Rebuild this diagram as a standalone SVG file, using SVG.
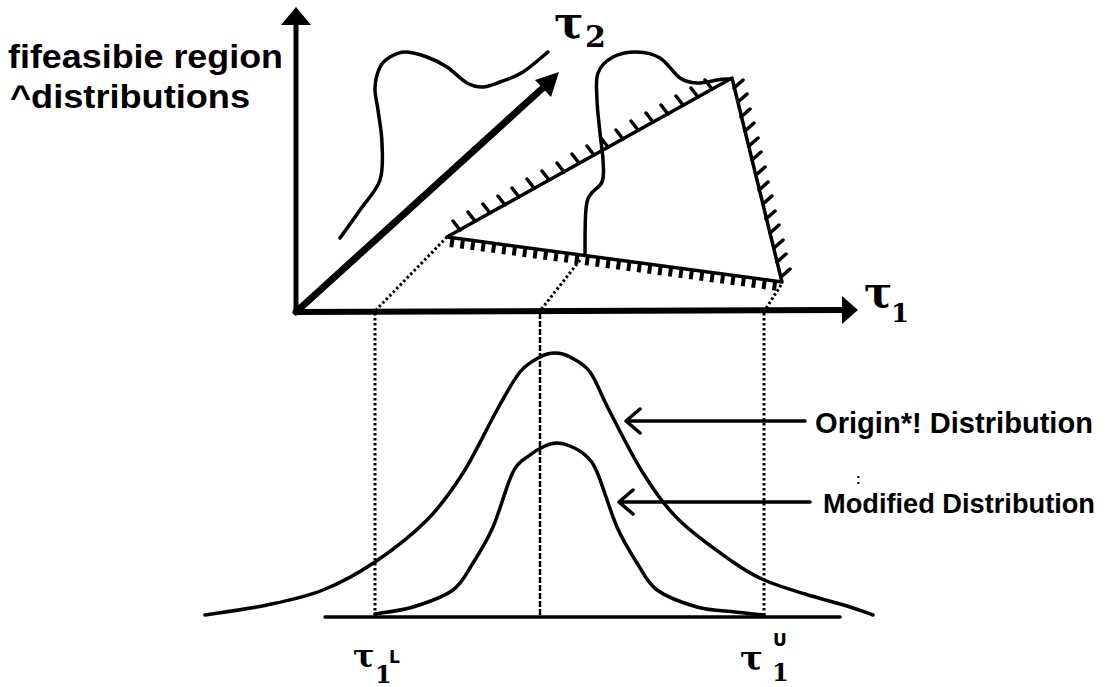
<svg xmlns="http://www.w3.org/2000/svg" width="1112" height="687" viewBox="0 0 1112 687">
<style>
.ln{fill:none;stroke:#000;stroke-linecap:round;stroke-linejoin:round}
.crv{fill:none;stroke:#000;stroke-width:3.5;stroke-linecap:round;stroke-linejoin:round}
.dot{fill:none;stroke:#000;stroke-width:3;stroke-dasharray:2.5 2.5}
.lbl{font-family:"Liberation Sans",Arial,sans-serif;font-weight:bold;fill:#000}
.tau{font-family:"DejaVu Serif",serif;font-weight:bold;fill:#000}
.sup{font-family:"DejaVu Sans",sans-serif;font-weight:bold;fill:#000}
</style>
<rect width="1112" height="687" fill="#fff"/>

<g id="axes">
  <line class="ln" x1="296" y1="312" x2="296" y2="22" stroke-width="5"/>
  <polygon points="296,7 281,25 311,25" fill="#000"/>
  <line class="ln" x1="296" y1="312" x2="846" y2="310" stroke-width="6"/>
  <polygon points="858,310 842,296 842,324" fill="#000"/>
  <line class="ln" x1="296" y1="312" x2="545" y2="86" stroke-width="7"/>
  <polygon points="559,72 535,80 551,97" fill="#000"/>
</g>

<g id="feasible-region">
  <polygon points="447,237 732,78 782,282" fill="none" stroke="#000" stroke-width="3.5" stroke-linejoin="round"/>
  <path class="ln" stroke-width="3.5" d="M460,230 l-7,-9 M475,221 l-7,-9 M490,213 l-7,-9 M505,205 l-7,-9 M519,197 l-7,-9 M534,188 l-7,-9 M549,180 l-7,-9 M564,172 l-7,-9 M579,163 l-7,-9 M594,155 l-7,-9 M608,147 l-7,-9 M623,139 l-7,-9 M638,130 l-7,-9 M653,122 l-7,-9 M668,114 l-7,-9 M683,105 l-7,-9 M698,97 l-7,-9 M712,89 l-7,-9"/>
  <path class="ln" stroke-width="3.5" d="M734,88 l9,-8 M738,102 l9,-8 M741,117 l9,-8 M745,131 l9,-8 M749,146 l9,-8 M752,160 l9,-8 M756,175 l9,-8 M759,190 l9,-8 M763,204 l9,-8 M766,219 l9,-8 M770,233 l9,-8 M774,248 l9,-8 M777,262 l9,-8 M781,277 l9,-8"/>
  <line x1="450" y1="242" x2="780" y2="286.3" stroke="#000" stroke-width="10" stroke-dasharray="4 6.5"/>
</g>

<g id="joint-distributions">
  <path class="crv" d="M340,238 C343.3,233.3 353.3,219.7 360,210 C366.7,200.3 376.3,191.2 380,180 C383.7,168.8 382.3,154.7 382,143 C381.7,131.3 379.2,119.2 378,110 C376.8,100.8 374.7,95.2 375,88 C375.3,80.8 377.5,72.2 380,67 C382.5,61.8 385.8,59.5 390,57 C394.2,54.5 398.8,52 405,52 C411.2,52 420,54.5 427,57 C434,59.5 440.3,62.7 447,67 C453.7,71.3 461,79.7 467,83 C473,86.3 477.5,87.2 483,87 C488.5,86.8 493.3,84.5 500,82 C506.7,79.5 515,77 523,72 C531,67 543.8,55.3 548,52"/>
  <path class="crv" d="M585,255 C585.3,246.2 584.2,214.2 587,202 C589.8,189.8 599.3,189 602,182 C604.7,175 603.3,168.2 603,160 C602.7,151.8 601,143 600,133 C599,123 597.3,110 597,100 C596.7,90 595.3,80.2 598,73 C600.7,65.8 606.5,60.5 613,57 C619.5,53.5 629.2,51.8 637,52 C644.8,52.2 652.8,53.7 660,58 C667.2,62.3 673.8,73.8 680,78 C686.2,82.2 690.8,82.7 697,83 C703.2,83.3 711.5,81 717,80 C722.5,79 728.7,79.2 731,79"/>
</g>

<g id="projections">
  <line class="dot" x1="447" y1="237" x2="375" y2="311"/>
  <line class="dot" x1="580" y1="260" x2="540" y2="311"/>
  <line class="dot" x1="781" y1="285" x2="765" y2="310"/>
  <line class="dot" x1="375" y1="313" x2="375" y2="617"/>
  <line x1="540" y1="313" x2="540" y2="617" stroke="#000" stroke-width="2.5" stroke-dasharray="6 2"/>
  <line class="dot" x1="764" y1="313" x2="764" y2="617"/>
</g>

<g id="marginal-distributions">
  <line class="ln" x1="325" y1="617" x2="840" y2="617" stroke-width="3.5"/>
  <path id="original" class="crv" d="M205,615 C215.3,613.3 247.3,609.2 267,605 C286.7,600.8 305,597.2 323,590 C341,582.8 357.7,573.7 375,562 C392.3,550.3 412.3,534.8 427,520 C441.7,505.2 451.3,491.3 463,473 C474.7,454.7 487.5,426.8 497,410 C506.5,393.2 512.8,380.8 520,372 C527.2,363.2 534.2,360.2 540,357 C545.8,353.8 550,353 555,353 C560,353 564.2,353.8 570,357 C575.8,360.2 583.5,363.2 590,372 C596.5,380.8 600.2,393.2 609,410 C617.8,426.8 631.3,454.7 643,473 C654.7,491.3 664,505.2 679,520 C694,534.8 718.8,552 733,562 C747.2,572 752,574.7 764,580 C776,585.3 790.7,589.5 805,594 C819.3,598.5 838.7,603.5 850,607 C861.3,610.5 869.2,613.7 873,615"/>
  <path id="modified" class="crv" d="M375,614 C381.3,612.8 400,611 413,607 C426,603 443,597.3 453,590 C463,582.7 466.3,573.5 473,563 C479.7,552.5 486.3,542.2 493,527 C499.7,511.8 506.8,484 513,472 C519.2,460 524.7,459.3 530,455 C535.3,450.7 540.5,448 545,446 C549.5,444 552.8,443 557,443 C561.2,443 565.3,444 570,446 C574.7,448 580.5,450.7 585,455 C589.5,459.3 591.7,460 597,472 C602.3,484 610.3,511.8 617,527 C623.7,542.2 630.3,552.5 637,563 C643.7,573.5 647,582.7 657,590 C667,597.3 684,603.3 697,607 C710,610.7 723.8,610.7 735,612 C746.2,613.3 759.2,614.5 764,615"/>
</g>

<g id="connectors">
  <path class="ln" stroke-width="3.5" d="M805,421 L626,421 M640,409 L626,421 L640,433"/>
  <path class="ln" stroke-width="3.5" d="M810,502 L619,502 M633,490 L619,502 L633,514"/>
</g>

<g id="labels">
  <text class="lbl" x="8" y="68" font-size="34" textLength="275" lengthAdjust="spacingAndGlyphs">fifeasibie region</text>
  <text class="lbl" x="10" y="108" font-size="34" textLength="240" lengthAdjust="spacingAndGlyphs">^distributions</text>
  <text class="lbl" x="815" y="433" font-size="29" textLength="278" lengthAdjust="spacingAndGlyphs">Origin*! Distribution</text>
  <text class="lbl" x="856" y="484" font-size="14">:</text>
  <text class="lbl" x="823" y="513" font-size="28" textLength="272" lengthAdjust="spacingAndGlyphs">Modified Distribution</text>
  <text class="tau" x="554" y="38" font-size="44">τ</text>
  <text class="tau" x="585" y="47" font-size="30">2</text>
  <text class="tau" x="864" y="307" font-size="42">τ</text>
  <text class="tau" x="891" y="322" font-size="26">1</text>
  <text class="tau" x="353" y="667" font-size="32">τ</text>
  <text class="tau" x="375" y="683" font-size="24">1</text>
  <text class="sup" x="389" y="663" font-size="17">L</text>
  <text class="tau" x="740" y="670" font-size="34">τ</text>
  <text class="tau" x="772" y="681" font-size="24">1</text>
  <text class="sup" x="773" y="646" font-size="17">U</text>
</g>
</svg>
